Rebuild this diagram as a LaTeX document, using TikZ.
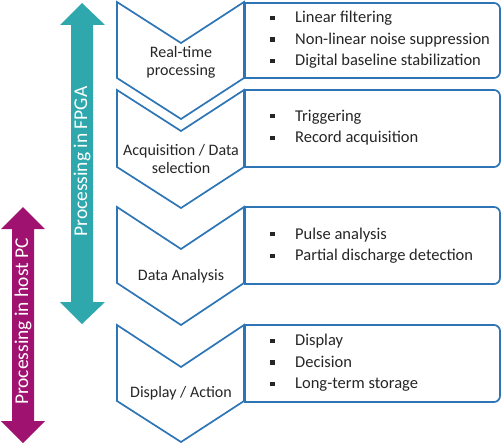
\documentclass[tikz,border=0pt]{standalone}
\usepackage{fontspec}
\setmainfont{Carlito}
\definecolor{outblue}{RGB}{46,117,182}
\definecolor{fpgateal}{RGB}{47,168,173}
\definecolor{hostmag}{RGB}{160,18,112}
\definecolor{txt}{RGB}{38,38,38}
\newcommand{\bul}{\makebox[25pt][l]{\raisebox{2.6pt}{\rule{4.3pt}{4.3pt}}}}
\tikzset{
  chev/.style={draw=outblue, line width=1.7pt, fill=white, line join=miter},
  infobox/.style={draw=outblue, line width=1.7pt, fill=white},
  steplabel/.style={font=\fontsize{16}{18}\selectfont, text=txt, align=center, inner sep=0pt},
  itemtext/.style={font=\fontsize{16.5}{21.5}\selectfont, text=txt, align=left, anchor=west, inner sep=0pt},
  arrowtext/.style={font=\fontsize{19.5}{24}\selectfont, text=white, rotate=90, inner sep=0pt}
}
\begin{document}
\begin{tikzpicture}[x=1pt,y=1pt]
\useasboundingbox (0,0) rectangle (502,-444);
% arrows
\fill[fpgateal] (82,-3) -- (105,-25) -- (93,-25) -- (93,-302) -- (105,-302) -- (82,-324)
  -- (60,-302) -- (71,-302) -- (71,-25) -- (60,-25) -- cycle;
\node[arrowtext] (fpga) at (82,-161.5) {Processing in FPGA};
\fill[hostmag] (23,-207) -- (45,-229) -- (34,-229) -- (34,-421) -- (45,-421) -- (23,-443)
  -- (1,-421) -- (12,-421) -- (12,-229) -- (1,-229) -- cycle;
\node[arrowtext] (host) at (23,-321.5) {Processing in host PC};
% chevrons
\draw[chev] (117,-2) -- (181,-43) -- (244,-2) -- (244,-78) -- (181,-119) -- (117,-78) -- cycle;
\draw[chev] (117,-90) -- (181,-131) -- (244,-90) -- (244,-167) -- (181,-208) -- (117,-167) -- cycle;
\draw[chev] (117,-207) -- (181,-249) -- (244,-207) -- (244,-283) -- (181,-325) -- (117,-283) -- cycle;
\draw[chev] (117,-325) -- (181,-367) -- (244,-325) -- (244,-401) -- (181,-442) -- (117,-401) -- cycle;
\node[steplabel] (s1) at (181,-62.5) {Real-time\\processing};
\node[steplabel] (s2) at (181,-159) {Acquisition / Data\\selection};
\node[steplabel] (s3) at (181,-276) {Data Analysis};
\node[steplabel] (s4) at (181,-393) {Display / Action};
% boxes
\draw[infobox] (245,-3) -- (494,-3) arc[start angle=90,end angle=0,radius=6] -- (500,-72)
  arc[start angle=0,end angle=-90,radius=6] -- (245,-78) -- cycle;
\draw[infobox] (245,-90) -- (494,-90) arc[start angle=90,end angle=0,radius=6] -- (500,-161)
  arc[start angle=0,end angle=-90,radius=6] -- (245,-167) -- cycle;
\draw[infobox] (245,-207) -- (494,-207) arc[start angle=90,end angle=0,radius=6] -- (500,-278)
  arc[start angle=0,end angle=-90,radius=6] -- (245,-284) -- cycle;
\draw[infobox] (245,-325) -- (494,-325) arc[start angle=90,end angle=0,radius=6] -- (500,-396)
  arc[start angle=0,end angle=-90,radius=6] -- (245,-402) -- cycle;
\node[itemtext] (b1) at (270,-40) {\bul Linear filtering\\\bul Non-linear noise suppression\\\bul Digital baseline stabilization};
\node[itemtext] (b2) at (270,-127.5) {\bul Triggering\\\bul Record acquisition};
\node[itemtext] (b3) at (270,-245.5) {\bul Pulse analysis\\\bul Partial discharge detection};
\node[itemtext] (b4) at (270,-363) {\bul Display\\\bul Decision\\\bul Long-term storage};
\end{tikzpicture}
\end{document}
